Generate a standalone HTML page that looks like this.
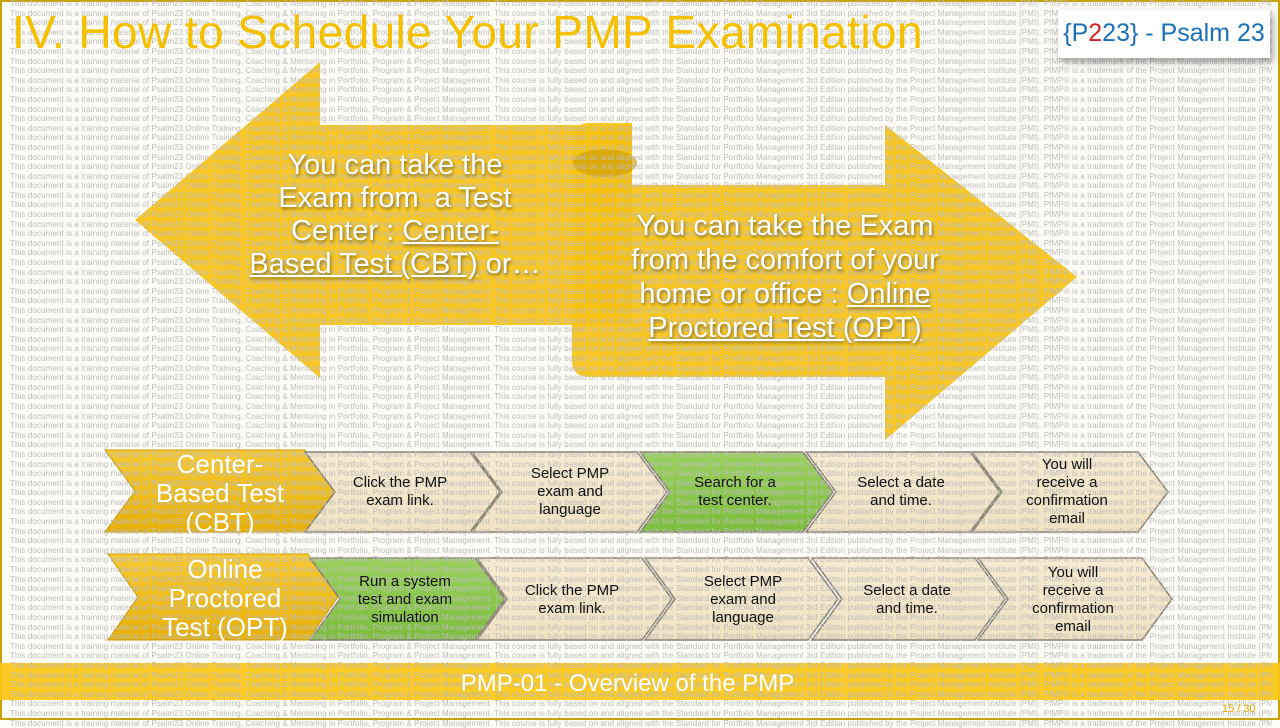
<!DOCTYPE html>
<html><head><meta charset="utf-8"><style>
html,body{margin:0;padding:0}
body{width:1280px;height:720px;position:relative;overflow:hidden;background:#fdfcf6;font-family:"Liberation Sans",sans-serif}
#wm{position:absolute;left:10px;top:-1px;width:1262px;font-family:"Liberation Sans",sans-serif;font-size:8px;line-height:9.6px;color:#bcbcbc;white-space:nowrap;overflow:hidden;z-index:2;letter-spacing:0.1px}
svg{position:absolute;left:0;top:0}
.t{position:absolute;z-index:3;text-align:center;color:#fff;text-shadow:1px 2px 3px rgba(0,0,0,.45);white-space:nowrap}
.u{text-decoration:underline}
.c{position:absolute;z-index:3;text-align:center;color:#111;font-size:15px;line-height:18px;white-space:nowrap}
</style></head><body>
<svg width="1280" height="720" style="z-index:1">
<defs>
<linearGradient id="cr" x1="0" y1="0" x2="0" y2="1"><stop offset="0" stop-color="#f6ead2"/><stop offset="1" stop-color="#f1e2c2"/></linearGradient>
<linearGradient id="gr" x1="0" y1="0" x2="0" y2="1"><stop offset="0" stop-color="#9ad15c"/><stop offset="1" stop-color="#7bbd3c"/></linearGradient>
<linearGradient id="yl" x1="0" y1="0" x2="0" y2="1"><stop offset="0" stop-color="#f8c932"/><stop offset="1" stop-color="#e7b007"/></linearGradient>
</defs>
<rect x="1" y="1" width="1278" height="718" fill="none" stroke="#c9a100" stroke-width="2"/>
<polygon points="135,220 320,62 320,125 632,125 632,325 320,325 320,378" fill="#f7c10e" opacity="0.9"/>
<path d="M572,185 L572,140 Q572,123 590,123 L632,123 L632,185 L885,185 L885,125 L1077,277 L885,440 L885,377 L590,377 Q572,377 572,360 Z" fill="#f7c10e" opacity="0.9"/>
<ellipse cx="605" cy="163" rx="32" ry="14" fill="#c99a00" opacity="0.6"/>
<rect x="0" y="663" width="1280" height="37" fill="#fbc512" opacity="0.92"/>
<polygon points="105,450 305,450 335,491 305,532 105,532 135,491" fill="url(#yl)" stroke="#c79a00"/>
<g stroke="#8a8070" stroke-width="1.5">
<polygon points="305,452 470,452 500,492 470,532 305,532 335,492" fill="url(#cr)"/>
<polygon points="472,452 637,452 667,492 637,532 472,532 502,492" fill="url(#cr)"/>
<polygon points="640,452 803,452 833,492 803,532 640,532 670,492" fill="url(#gr)"/>
<polygon points="806,452 970,452 1000,492 970,532 806,532 836,492" fill="url(#cr)"/>
<polygon points="972,452 1138,452 1168,492 1138,532 972,532 1002,492" fill="url(#cr)"/>
</g>
<polygon points="108,554 308,554 338,597 308,640 108,640 138,597" fill="url(#yl)" stroke="#c79a00"/>
<g stroke="#8a8070" stroke-width="1.5">
<polygon points="310,558 475,558 505,599 475,640 310,640 340,599" fill="url(#gr)"/>
<polygon points="477,558 642,558 672,599 642,640 477,640 507,599" fill="url(#cr)"/>
<polygon points="645,558 808,558 838,599 808,640 645,640 675,599" fill="url(#cr)"/>
<polygon points="812,558 975,558 1005,599 975,640 812,640 842,599" fill="url(#cr)"/>
<polygon points="978,558 1142,558 1172,599 1142,640 978,640 1008,599" fill="url(#cr)"/>
</g>
</svg>
<div id="wm"></div>
<script>
var s="This document is a training material of Psalm23 Online Training, Coaching &amp; Mentoring in Portfolio, Program &amp; Project Management. This course is fully based on and aligned with the Standard for Portfolio Management 3rd Edition published by the Project Management Institute (PMI). PfMP® is a trademark of the Project Management Institute (PMI).";
var h="";for(var i=0;i<76;i++)h+=s+"<br>";document.getElementById("wm").innerHTML=h;
</script>
<div style="position:absolute;left:12px;top:5px;z-index:4;font-size:46px;color:#f5c000;white-space:nowrap;letter-spacing:0.4px">IV. How to Schedule Your PMP Examination</div>
<div style="position:absolute;left:1058px;top:10px;width:212px;height:48px;background:#fff;z-index:4;box-shadow:3px 4px 8px rgba(0,0,0,.35);font-size:25px;color:#1a6fb8;line-height:46px;text-align:center;white-space:nowrap">{P<span style="color:#d42020">2</span>23} - Psalm 23</div>
<div class="t" style="left:245px;top:149px;width:300px;font-size:29px;line-height:33px">You can take the<br>Exam from&nbsp; a Test<br>Center : <span class="u">Center-</span><br><span class="u">Based Test (CBT)</span> or…</div>
<div class="t" style="left:590px;top:209px;width:390px;font-size:29px;line-height:34px">You can take the Exam<br>from the comfort of your<br>home or office : <span class="u">Online</span><br><span class="u">Proctored Test (OPT)</span></div>
<div class="t" style="left:145px;top:450px;width:150px;font-size:26px;line-height:29px;text-shadow:none">Center-<br>Based Test<br>(CBT)</div>
<div class="t" style="left:145px;top:555px;width:160px;font-size:26px;line-height:29px;text-shadow:none">Online<br>Proctored<br>Test (OPT)</div>
<div class="c" style="left:345px;top:474px;width:110px">Click the PMP<br>exam link.</div>
<div class="c" style="left:515px;top:465px;width:110px">Select PMP<br>exam and<br>language</div>
<div class="c" style="left:680px;top:474px;width:110px">Search for a<br>test center.</div>
<div class="c" style="left:846px;top:474px;width:110px">Select a date<br>and time.</div>
<div class="c" style="left:1012px;top:456px;width:110px">You will<br>receive a<br>confirmation<br>email</div>
<div class="c" style="left:350px;top:573px;width:110px">Run a system<br>test and exam<br>simulation</div>
<div class="c" style="left:517px;top:582px;width:110px">Click the PMP<br>exam link.</div>
<div class="c" style="left:688px;top:573px;width:110px">Select PMP<br>exam and<br>language</div>
<div class="c" style="left:852px;top:582px;width:110px">Select a date<br>and time.</div>
<div class="c" style="left:1018px;top:564px;width:110px">You will<br>receive a<br>confirmation<br>email</div>
<div class="t" style="left:340px;top:669px;width:575px;font-size:24px;line-height:30px;text-shadow:none">PMP-01 - Overview of the PMP</div>
<div style="position:absolute;left:1222px;top:703px;z-index:4;font-size:11px;color:#e0a800">15 / 30</div>
</body></html>
